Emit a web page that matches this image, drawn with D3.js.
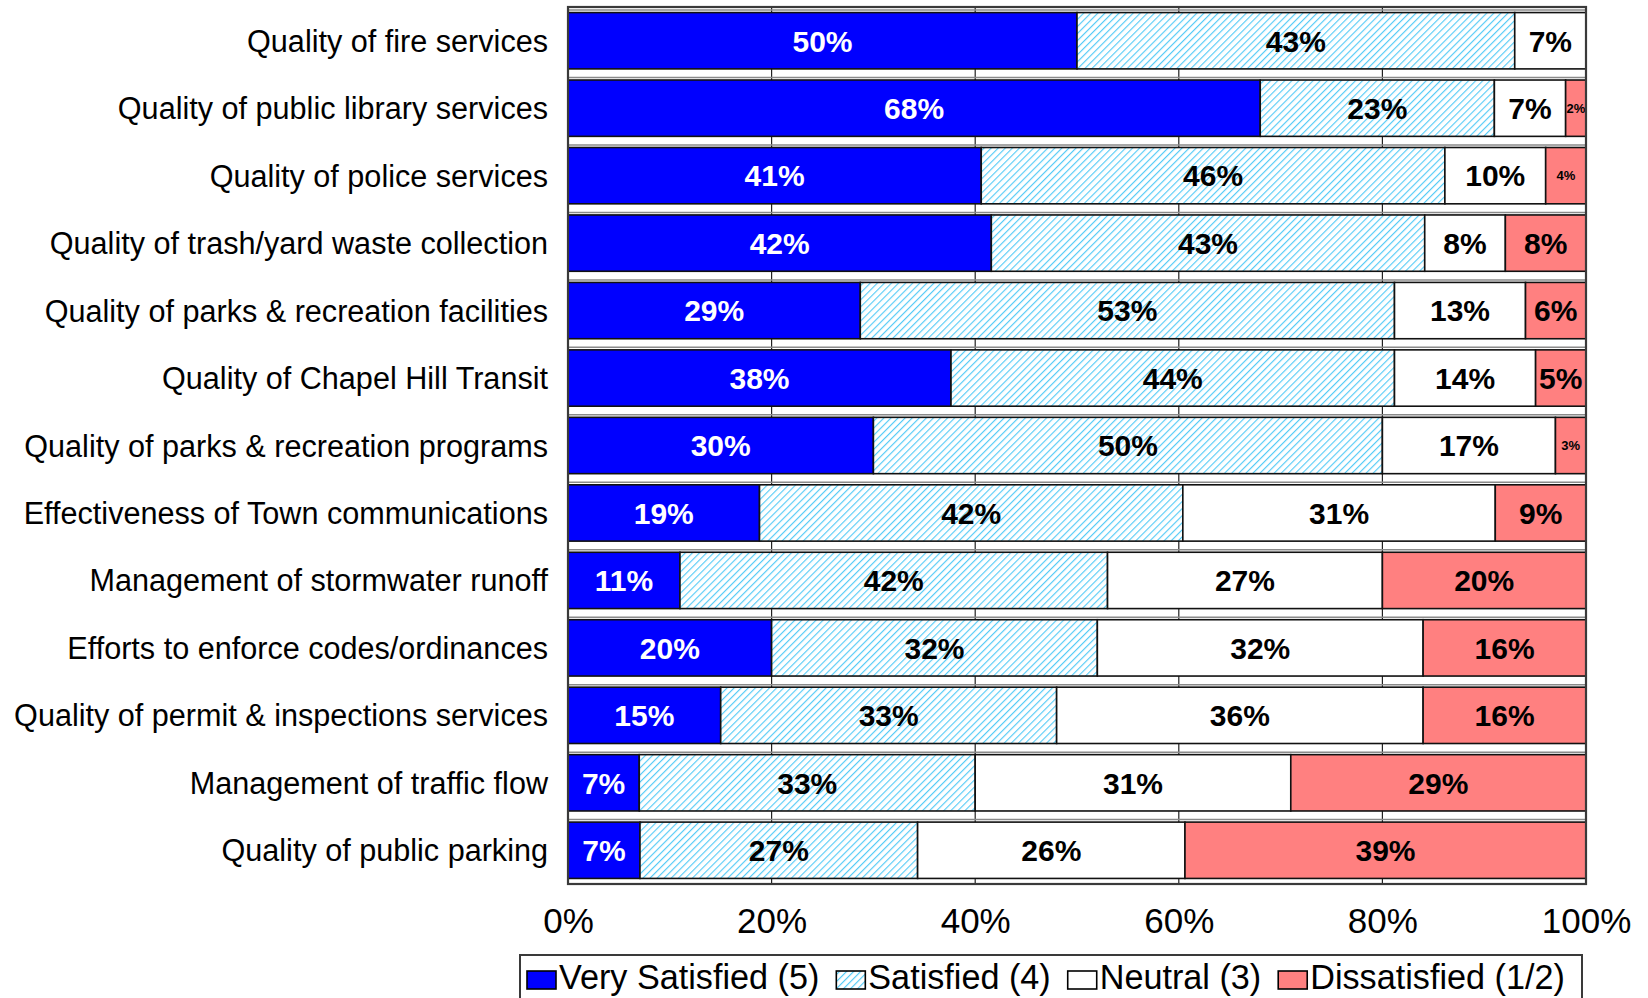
<!DOCTYPE html>
<html><head><meta charset="utf-8">
<script src="https://cdn.jsdelivr.net/npm/d3@7"></script>
<style>
html,body{margin:0;padding:0;background:#fff;}
text{font-family:"Liberation Sans",Arial,sans-serif;}
</style></head>
<body><svg id="chart" width="1648" height="998"></svg>
<script>
const categories = [
  "Quality of fire services",
  "Quality of public library services",
  "Quality of police services",
  "Quality of trash/yard waste collection",
  "Quality of parks & recreation facilities",
  "Quality of Chapel Hill Transit",
  "Quality of parks & recreation programs",
  "Effectiveness of Town communications",
  "Management of stormwater runoff",
  "Efforts to enforce codes/ordinances",
  "Quality of permit & inspections services",
  "Management of traffic flow",
  "Quality of public parking"
];
const seriesNames = ["Very Satisfied (5)", "Satisfied (4)", "Neutral (3)", "Dissatisfied (1/2)"];
const verySatisfied = [50, 68, 41, 42, 29, 38, 30, 19, 11, 20, 15, 7, 7];
const satisfied     = [43, 23, 46, 43, 53, 44, 50, 42, 42, 32, 33, 33, 27];
const neutral       = [7, 7, 10, 8, 13, 14, 17, 31, 27, 32, 36, 31, 26];
const dissatisfied  = [0, 2, 4, 8, 6, 5, 3, 9, 20, 16, 16, 29, 39];
const tickValues = [0, 0.2, 0.4, 0.6, 0.8, 1.0];

const svg = d3.select("#chart");
const plot = {left: 568, right: 1586, top: 7, bottom: 884};

const x = d3.scaleLinear().domain([0, 1]).range([plot.left, plot.right]);
const y = d3.scaleBand().domain(categories).range([plot.top, plot.bottom]).paddingInner(0.165).paddingOuter(0.0825);

// hatch pattern
const defs = svg.append("defs");
const pat = defs.append("pattern").attr("id", "hatch").attr("patternUnits", "userSpaceOnUse")
  .attr("width", 5).attr("height", 5).attr("patternTransform", "rotate(45)");
pat.append("rect").attr("width", 5).attr("height", 5).attr("fill", "#ffffff");
pat.append("line").attr("x1", 0).attr("y1", 0).attr("x2", 0).attr("y2", 5)
  .attr("stroke", "#55cbf7").attr("stroke-width", 2.3);

const fills = ["#0000ff", "url(#hatch)", "#ffffff", "#ff8080"];

const rows = categories.map((c, i) => ({cat: c, vals: [verySatisfied[i], satisfied[i], neutral[i], dissatisfied[i]]}));
const stack = d3.stack().keys([0,1,2,3]).value((d, k) => d.vals[k]).offset(d3.stackOffsetExpand);
const layers = stack(rows);

// gridlines
svg.append("g").selectAll("line").data(tickValues.slice(1, -1)).join("line")
  .attr("x1", d => x(d)).attr("x2", d => x(d)).attr("y1", plot.top).attr("y2", plot.bottom)
  .attr("stroke", "#222").attr("stroke-width", 1.2);

// shadow lines above each bar
svg.append("g").selectAll("line").data(categories).join("line")
  .attr("x1", plot.left).attr("x2", plot.right)
  .attr("y1", d => y(d) - 2.5).attr("y2", d => y(d) - 2.5)
  .attr("stroke", "#8a8a8a").attr("stroke-width", 1.5);

// bars
const gBars = svg.append("g");
layers.forEach((layer, k) => {
  gBars.append("g").selectAll("rect").data(layer).join("rect")
    .attr("x", d => x(d[0])).attr("width", d => Math.max(0, x(d[1]) - x(d[0])))
    .attr("y", d => y(d.data.cat)).attr("height", y.bandwidth())
    .attr("fill", fills[k])
    .attr("stroke", d => (d[1] - d[0]) > 0 ? "#111" : "none").attr("stroke-width", 1.6);
});

// labels
const gLab = svg.append("g");
layers.forEach((layer, k) => {
  gLab.append("g").selectAll("text").data(layer.filter(d => d.data.vals[k] > 0)).join("text")
    .attr("x", d => (x(d[0]) + x(d[1])) / 2)
    .attr("y", d => y(d.data.cat) + y.bandwidth() / 2)
    .attr("dy", "0.36em")
    .attr("text-anchor", "middle")
    .attr("font-weight", "bold")
    .attr("font-size", d => d.data.vals[k] < 5 ? 13 : 30)
    .attr("fill", k === 0 ? "#ffffff" : "#000000")
    .text(d => d.data.vals[k] + "%");
});

// plot frame
svg.append("rect").attr("x", plot.left).attr("y", plot.top)
  .attr("width", plot.right - plot.left).attr("height", plot.bottom - plot.top)
  .attr("fill", "none").attr("stroke", "#3a3a3a").attr("stroke-width", 2.2);

// category labels
const yAxis = d3.axisLeft(y).tickSize(0).tickPadding(20);
const gy = svg.append("g").attr("transform", `translate(${plot.left},0)`).call(yAxis);
gy.select(".domain").remove();
gy.selectAll("text").attr("font-size", 30.6).attr("fill", "#000")
  .attr("font-family", "'Liberation Sans', Arial, sans-serif").attr("dy", "0.36em");

// x axis
const xAxis = d3.axisBottom(x).tickValues(tickValues).tickSize(0).tickPadding(24).tickFormat(d3.format(".0%"));
const gx = svg.append("g").attr("transform", `translate(0,${plot.bottom})`).call(xAxis);
gx.select(".domain").remove();
gx.selectAll("text").attr("font-size", 35).attr("fill", "#000")
  .attr("font-family", "'Liberation Sans', Arial, sans-serif");

// legend
const leg = svg.append("g");
leg.append("rect").attr("x", 520).attr("y", 955).attr("width", 1062).attr("height", 60)
  .attr("fill", "#fff").attr("stroke", "#3a3a3a").attr("stroke-width", 2);
let lx = 527;
seriesNames.forEach((name, k) => {
  leg.append("rect").attr("x", lx).attr("y", 971).attr("width", 29).attr("height", 18)
    .attr("fill", fills[k]).attr("stroke", "#000").attr("stroke-width", 1.6);
  const t = leg.append("text").attr("x", lx + 32).attr("y", 989).attr("font-size", 34.2)
    .attr("fill", "#000").text(name);
  const w = t.node().getComputedTextLength();
  lx = lx + 32 + w + 17;
});
</script>
</body></html>
